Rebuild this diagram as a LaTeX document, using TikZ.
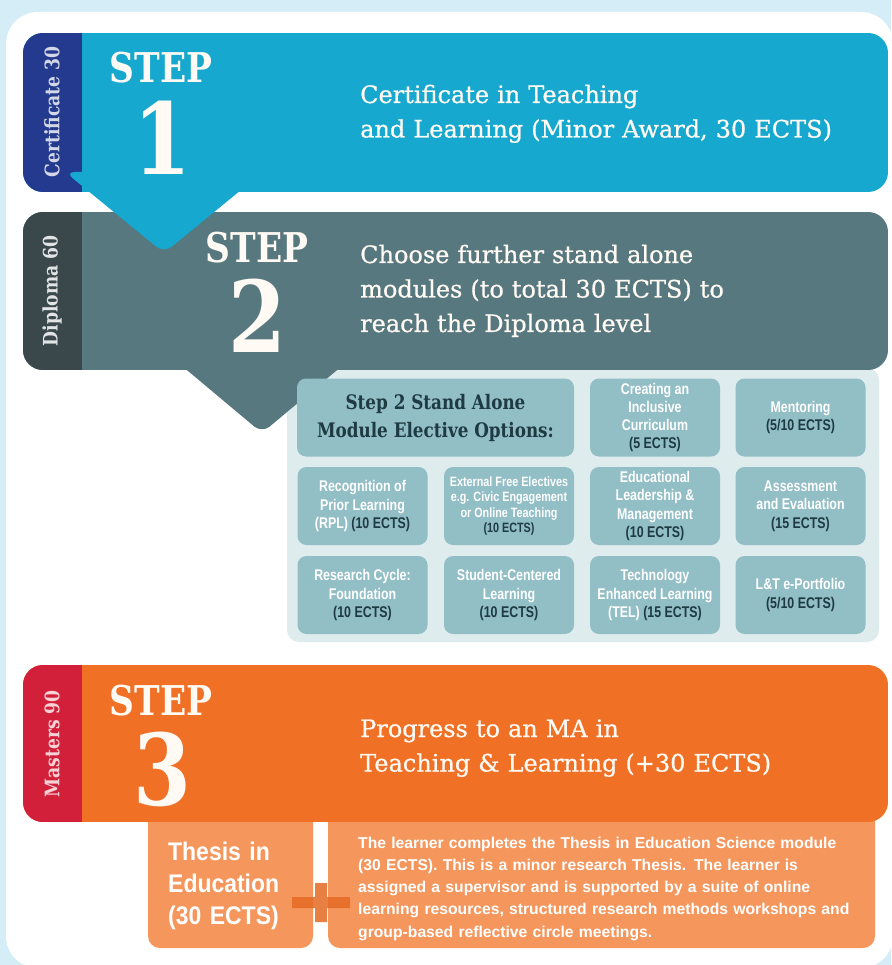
\documentclass[tikz,border=0pt]{standalone}
\usepackage{fontspec}
\setmainfont{DejaVu Serif}
\newfontfamily\slabfont[FakeBold=0.7]{DejaVu Serif}
\newfontfamily\stepfont[FakeStretch=0.84]{DejaVu Serif}
\newfontfamily\tilefont[FakeStretch=0.8]{Liberation Sans}
\newfontfamily\thesisfont[FakeStretch=0.9]{Liberation Sans}
\newfontfamily\notefont{Liberation Sans}
\newfontfamily\tabfont[FakeStretch=0.86]{DejaVu Serif}

\definecolor{skyback}{RGB}{213,237,246}
\definecolor{stepone}{RGB}{22,168,206}
\definecolor{tabone}{RGB}{36,58,142}
\definecolor{steptwo}{RGB}{88,120,127}
\definecolor{tabtwo}{RGB}{58,72,75}
\definecolor{stepthree}{RGB}{240,112,38}
\definecolor{tabthree}{RGB}{210,32,58}
\definecolor{thesisbg}{RGB}{245,150,92}
\definecolor{panelbg}{RGB}{222,236,238}
\definecolor{tilebg}{RGB}{146,190,197}
\definecolor{tiletext}{RGB}{30,58,66}
\definecolor{cream}{RGB}{255,250,244}

\newcommand{\ects}[1]{\textcolor{tiletext}{#1}}

\tikzset{
	tile/.style={fill=tilebg, rounded corners=9pt, minimum width=130pt, minimum height=78pt,
		align=center, text=white, inner sep=2pt, font=\tilefont\bfseries\fontsize{15.5}{18.3}\selectfont},
	steplabel/.style={text=cream, inner sep=0pt, font=\stepfont\bfseries\fontsize{41}{41}\selectfont},
	stepnum/.style={text=cream, inner sep=0pt, font=\stepfont\bfseries\fontsize{99}{99}\selectfont},
	bannertext/.style={text=cream, anchor=base west, align=left, text width=520pt, inner sep=0pt,
		font=\slabfont\fontsize{24}{34.5}\selectfont},
	tabtext/.style={rotate=90, inner sep=0pt, font=\tabfont\bfseries\fontsize{20}{20}\selectfont},
}

\begin{document}
\begin{tikzpicture}[x=1pt,y=-1pt]
	\useasboundingbox (0,0) rectangle (891,965);
	\fill[skyback] (0,0) rectangle (891,965);
	\fill[white, rounded corners=32pt] (6,12) rectangle (893,968);

	\fill[panelbg, rounded corners=12pt] (287,368) rectangle (879,642);
	\fill[thesisbg, rounded corners=12pt] (148,800) rectangle (313,948);
	\fill[thesisbg, rounded corners=12pt] (328,800) rectangle (875,948);
	\fill[stepthree!95!black, opacity=0.85] (292,897) rectangle (350,908) (315,883) rectangle (327,922);

	\foreach \top/\bot/\main/\tab in {212/370/steptwo/tabtwo, 33/192/stepone/tabone, 665/822/stepthree/tabthree} {
		\begin{scope}
			\clip[rounded corners=20pt] (23,\top) rectangle (888,\bot);
			\fill[\main] (23,\top) rectangle (888,\bot);
			\fill[\tab] (23,\top) rectangle (82,\bot);
		\end{scope}
	}
	\fill[stepone, rounded corners=10pt] (65,172) -- (164,253) -- (263,172) -- cycle;
	\fill[steptwo, rounded corners=10pt] (163,350) -- (262,433) -- (361,350) -- cycle;

	\node[tabtext, text=white!80!tabone] (tabonetext) at (52,112) {Certificate 30};
	\node[tabtext, text=white!85!tabtwo] (tabtwotext) at (52,291) {Diploma 60};
	\node[tabtext, text=white!80!tabthree] (tabthreetext) at (52,744) {Masters 90};

	\node[steplabel] (stepa) at (161,68) {STEP};
	\node[stepnum] (numa) at (162,138) {1};
	\node[steplabel] (stepb) at (257,248) {STEP};
	\node[stepnum] (numb) at (257,316) {2};
	\node[steplabel] (stepc) at (161,701) {STEP};
	\node[stepnum] (numc) at (162,769) {3};

	\node[bannertext] (texta) at (360,103) {Certificate in Teaching\\and Learning (Minor Award, 30 ECTS)};
	\node[bannertext] (textb) at (360,263) {Choose further stand alone\\modules (to total 30 ECTS) to\\reach the Diploma level};
	\node[bannertext] (textc) at (360,737) {Progress to an MA in\\Teaching \& Learning (+30 ECTS)};

	\node[tile, minimum width=277pt, text=tiletext, font=\stepfont\bfseries\fontsize{20}{28}\selectfont] (intro) at (435.5,417.5) {Step 2 Stand Alone\\Module Elective Options:};
	\node[tile] (inclusive) at (655,417.5) {Creating an\\Inclusive\\Curriculum\\\ects{(5 ECTS)}};
	\node[tile] (mentoring) at (800.5,417.5) {Mentoring\\\ects{(5/10 ECTS)}};
	\node[tile] (rpl) at (362.5,506) {Recognition of\\Prior Learning\\(RPL) \ects{(10 ECTS)}};
	\node[tile, font=\tilefont\bfseries\fontsize{13.5}{15.5}\selectfont] (external) at (509,506) {External Free Electives\\e.g. Civic Engagement\\or Online Teaching\\\ects{(10 ECTS)}};
	\node[tile] (leadership) at (655,506) {Educational\\Leadership \&\\Management\\\ects{(10 ECTS)}};
	\node[tile] (assessment) at (800.5,506) {Assessment\\and Evaluation\\\ects{(15 ECTS)}};
	\node[tile] (research) at (362.5,595) {Research Cycle:\\Foundation\\\ects{(10 ECTS)}};
	\node[tile] (student) at (509,595) {Student-Centered\\Learning\\\ects{(10 ECTS)}};
	\node[tile] (tel) at (655,595) {Technology\\Enhanced Learning\\(TEL) \ects{(15 ECTS)}};
	\node[tile] (portfolio) at (800.5,595) {L\&T e-Portfolio\\\ects{(5/10 ECTS)}};

	\node[anchor=base west, align=left, text width=150pt, inner sep=0pt, text=white,
		font=\thesisfont\bfseries\fontsize{25.5}{32}\selectfont] (thesis) at (168,860) {Thesis in\\Education\\(30 ECTS)};
	\node[anchor=base west, align=left, text width=520pt, inner sep=0pt, text=white,
		font=\notefont\bfseries\fontsize{15.7}{22.3}\selectfont] (summary) at (358,848)
		{The learner completes the Thesis in Education Science module\\(30 ECTS). This is a minor research Thesis. The learner is\\assigned a supervisor and is supported by a suite of online\\learning resources, structured research methods workshops and\\group-based reflective circle meetings.};
\end{tikzpicture}
\end{document}
